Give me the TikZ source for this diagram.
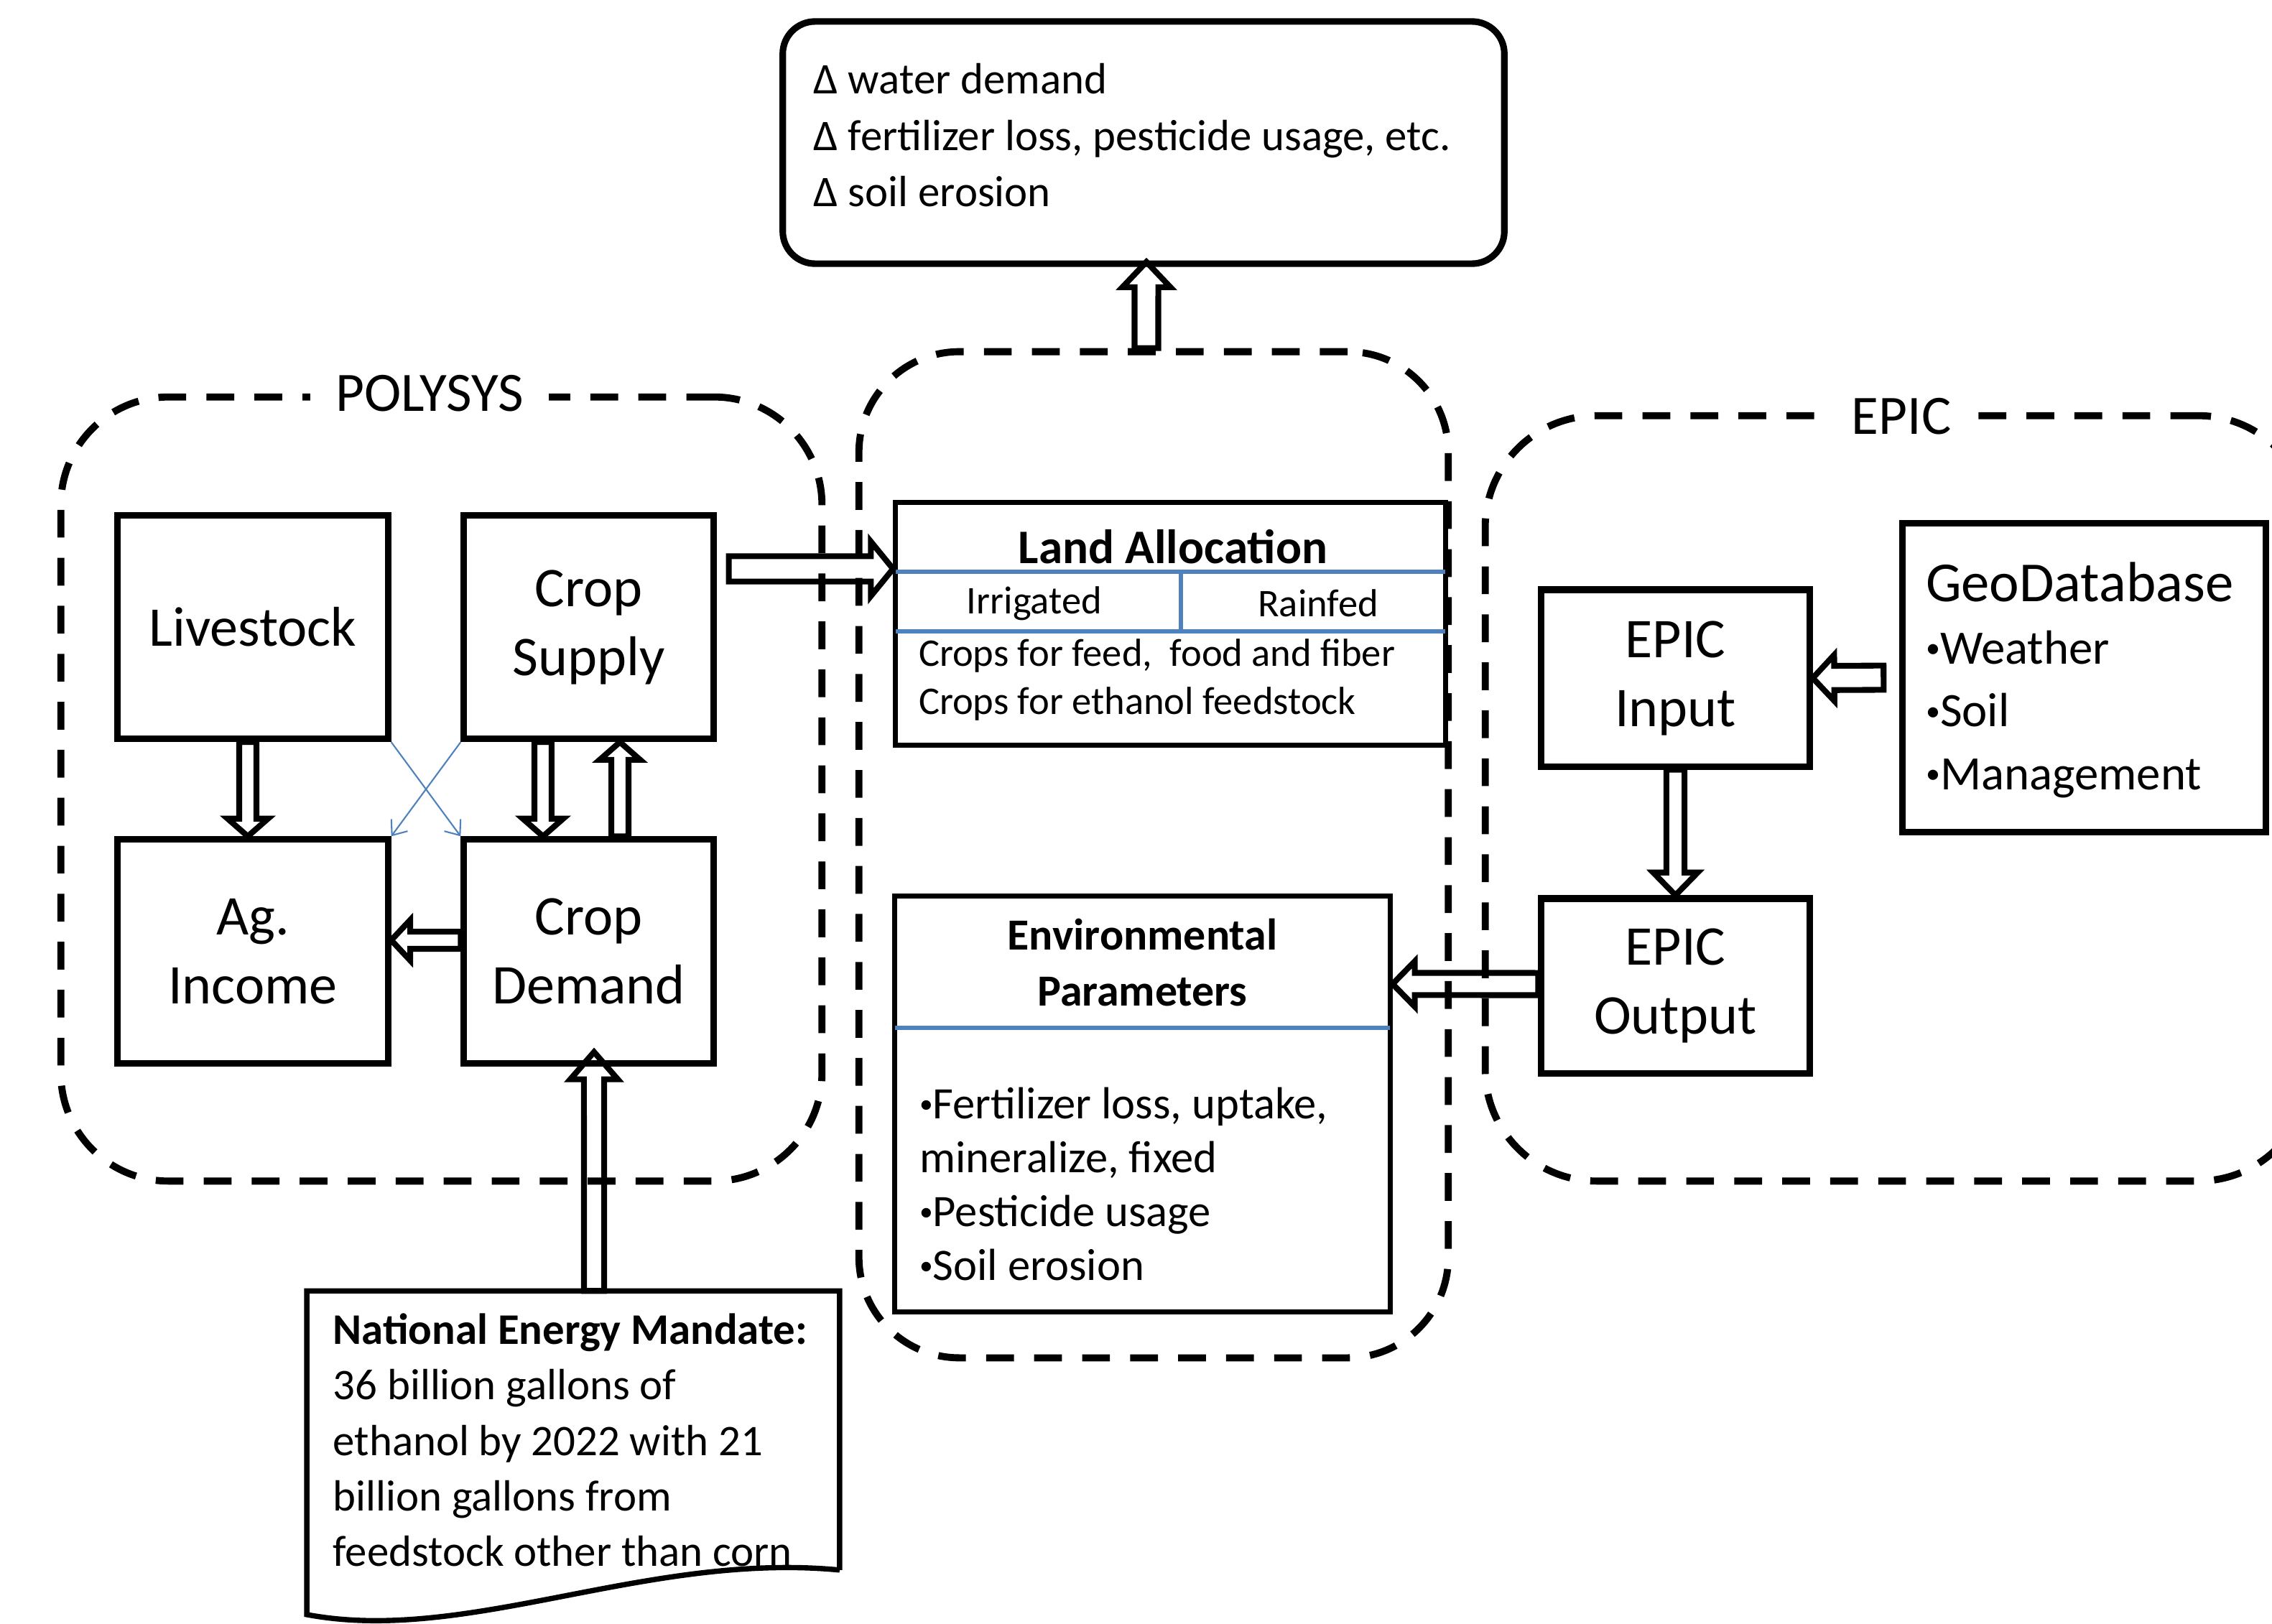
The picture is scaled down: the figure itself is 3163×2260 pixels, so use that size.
\documentclass[tikz,border=0pt]{standalone}
\usepackage{fontspec}
\setmainfont{Carlito}
\usetikzlibrary{arrows.meta,calc}
\definecolor{obl}{RGB}{79,129,189}
\newcommand\fsBox{\fontsize{22.2pt}{27.3pt}\selectfont}
\newcommand\fsCont{\fontsize{22pt}{27pt}\selectfont}
\newcommand\fsTop{\fontsize{17.3pt}{22.3pt}\selectfont}
\newcommand\fsLandT{\fontsize{19.1pt}{23pt}\selectfont\bfseries}
\newcommand\fsLandS{\fontsize{15.5pt}{19.1pt}\selectfont}
\newcommand\fsEnvT{\fontsize{17.6pt}{22.2pt}\selectfont\bfseries}
\newcommand\fsEnv{\fontsize{17.8pt}{21.3pt}\selectfont}
\newcommand\fsMan{\fontsize{17.3pt}{22pt}\selectfont}
\newcommand\fsGeoT{\fontsize{22.4pt}{27pt}\selectfont}
\newcommand\fsGeoB{\fontsize{19pt}{24.9pt}\selectfont}
\newcommand\smbul{\raisebox{0.13em}{\scalebox{0.6}{•}}}
\tikzset{
  mbox/.style={draw, line width=2.6pt, inner sep=0pt, align=center, font=\fsBox},
  ibox/.style={draw, line width=2pt, inner sep=0pt},
  cont/.style={draw, line width=2.8pt, dash pattern=on 11pt off 8pt, inner sep=0pt},
  clabel/.style={fill=white, inner xsep=10pt, inner ysep=3pt, font=\fsCont},
  blkarrow/.style={draw, line width=2.3pt, line join=miter},
  thinb/.style={draw=obl, line width=0.6pt, -{Straight Barb[length=5pt,width=8pt]}},
  blueline/.style={draw=obl, line width=1.7pt, shorten <=1pt, shorten >=1pt},
  txt/.style={inner sep=0pt, align=left},
}
% block arrow: from, to, shaft half width, head half width, head length (pt)
\newcommand\blk[5]{%
  \draw[blkarrow] let \p1=(#1), \p2=(#2),
     \n1={atan2(\y2-\y1,\x2-\x1)}, \n2={veclen(\x2-\x1,\y2-\y1)} in
   [shift={(\x1,\y1)}, rotate=\n1]
   (0pt,{#3*1pt}) -- ({(\n2-#5)*1pt},{#3*1pt}) -- ({(\n2-#5)*1pt},{#4*1pt})
   -- ({\n2*1pt},0pt) -- ({(\n2-#5)*1pt},{-#4*1pt}) -- ({(\n2-#5)*1pt},{-#3*1pt})
   -- (0pt,{-#3*1pt}) -- cycle;}
\begin{document}
\begin{tikzpicture}[x=0.01cm,y=-0.01cm]
\useasboundingbox (0,0) rectangle (3163,2260);

% containers
\node[cont, rounded corners=1.5cm, minimum width=10.59cm, minimum height=10.91cm] (polysys) at (614.5,1098.5) {};
\node[cont, rounded corners=1.4cm, minimum width=8.20cm, minimum height=14.0cm] (mid) at (1606,1190) {};
\node[cont, rounded corners=1.55cm, minimum width=11.47cm, minimum height=10.65cm] (epic) at (2641.5,1111.5) {};
\node[clabel] (polylab) at ([xshift=-0.165cm]polysys.north) {POLYSYS};
\node[clabel] (epiclab) at ([xshift=0.055cm,yshift=-0.06cm]epic.north) {EPIC};

% impact box
\node[draw, line width=2.6pt, rounded corners=0.45cm, minimum width=10.04cm, minimum height=3.37cm] (impact) at (1592,198.5) {};
\node[txt, anchor=west, font=\fsTop] (imptxt) at ([xshift=0.47cm,yshift=0.1cm]impact.west)
  {Δ water demand\\Δ fertilizer loss, pesticide usage, etc.\\Δ soil erosion};

% POLYSYS boxes
\node[mbox, minimum width=3.76cm, minimum height=3.11cm] (livestock) at (352,873) {Livestock};
\node[mbox, minimum width=3.47cm, minimum height=3.11cm] (supply) at (819.5,873) {Crop\\Supply};
\node[mbox, minimum width=3.76cm, minimum height=3.11cm] (income) at (352,1324.5) {Ag.\\Income};
\node[mbox, minimum width=3.47cm, minimum height=3.11cm] (demand) at (819.5,1324.5) {Crop\\Demand};

% middle boxes
\node[ibox, minimum width=7.65cm, minimum height=3.37cm] (land) at (1629.5,868.5) {};
\node[ibox, minimum width=6.89cm, minimum height=5.78cm] (env) at (1590.5,1537) {};
\draw[blueline] ([yshift=0.725cm]land.west) -- ([yshift=0.725cm]land.east);
\draw[blueline] ([yshift=-0.105cm]land.west) -- ([yshift=-0.105cm]land.east);
\draw[draw=obl, line width=1.7pt] ([xshift=0.145cm,yshift=0.725cm]land.center) -- ([xshift=0.145cm,yshift=-0.105cm]land.center);
\draw[blueline] ([yshift=1.06cm]env.west) -- ([yshift=1.06cm]env.east);
\node[inner sep=0pt, font=\fsLandT] (landt) at ([xshift=0.035cm,yshift=1.07cm]land.center) {Land Allocation};
\node[inner sep=0pt, font=\fsLandS] (irr) at ([xshift=-1.895cm,yshift=0.285cm]land.center) {Irrigated};
\node[inner sep=0pt, font=\fsLandS] (rain) at ([xshift=2.055cm,yshift=0.285cm]land.center) {Rainfed};
\node[txt, anchor=west, font=\fsLandS] (crops) at ([xshift=0.35cm,yshift=-0.78cm]land.west)
  {Crops for feed,\ \ food and fiber\\Crops for ethanol feedstock};
\node[inner sep=0pt, align=center, font=\fsEnvT] (envt) at ([yshift=1.97cm]env.center) {Environmental\\Parameters};
\node[txt, anchor=west, font=\fsEnv] (envb) at ([xshift=0.37cm,yshift=-1.115cm]env.west)
  {\smbul Fertilizer loss, uptake,\\mineralize, fixed\\\smbul Pesticide usage\\\smbul Soil erosion};

% EPIC boxes
\node[mbox, minimum width=3.73cm, minimum height=2.46cm] (epicin) at (2332.5,944) {EPIC\\Input};
\node[mbox, minimum width=3.73cm, minimum height=2.43cm] (epicout) at (2332.5,1372.5) {EPIC\\Output};
\node[draw, line width=2.6pt, inner sep=0pt, minimum width=5.05cm, minimum height=4.29cm] (geo) at (2901.5,943.5) {};
\node[txt, anchor=west, font=\fsGeoT] (geot) at ([xshift=0.36cm,yshift=1.325cm]geo.west) {GeoDatabase};
\node[txt, anchor=west, font=\fsGeoB] (geob) at ([xshift=0.36cm,yshift=-0.51cm]geo.west) {\smbul Weather\\\smbul Soil\\\smbul Management};

% mandate document
\node[inner sep=0pt, minimum width=7.4cm, minimum height=3.87cm] (mandate) at (798,1991.5) {};
\draw[line width=2.1pt] (mandate.south east) -- (mandate.north east) -- (mandate.north west)
  -- ([yshift=-0.62cm]mandate.south west) .. controls (650,2290) and (900,2160) .. (mandate.south east);
\node[txt, anchor=west, font=\fsMan] (mantxt) at ([xshift=0.36cm,yshift=-0.135cm]mandate.west)
  {\textbf{National Energy Mandate:}\\36 billion gallons of\\ethanol by 2022 with 21\\billion gallons from\\feedstock other than corn};

% block arrows
\blk{[xshift=-0.07cm]livestock.south}{[xshift=-0.07cm]income.north}{3.4}{8}{7}
\blk{[xshift=-0.635cm]supply.south}{[xshift=-0.635cm]demand.north}{3.4}{8}{7}
\blk{[xshift=0.435cm]demand.north}{[xshift=0.435cm]supply.south}{3.4}{8}{7}
\blk{[yshift=0.155cm]demand.west}{[yshift=0.155cm]income.east}{3.4}{8}{7.5}
\blk{[xshift=0.17cm,yshift=0.81cm]supply.east}{[yshift=0.765cm]land.west}{5}{10.8}{8.8}
\blk{[xshift=-0.1cm]mid.north}{[xshift=0.04cm,yshift=0.07cm]impact.south}{4.7}{9.5}{10}
\blk{[yshift=0.025cm]epicout.west}{[yshift=1.67cm]env.east}{4.4}{9}{8.8}
\blk{[xshift=-0.22cm]geo.west}{epicin.east}{4.8}{9.1}{8.5}
\blk{epicin.south}{epicout.north}{3.6}{8.8}{9}
\blk{[xshift=0.29cm]mandate.north}{[xshift=0.075cm,yshift=0.2cm]demand.south}{4}{9.4}{10.8}

% thin blue crossing arrows
\draw[thinb] (livestock.south east) -- (demand.north west);
\draw[thinb] (supply.south west) -- (income.north east);
\end{tikzpicture}
\end{document}
